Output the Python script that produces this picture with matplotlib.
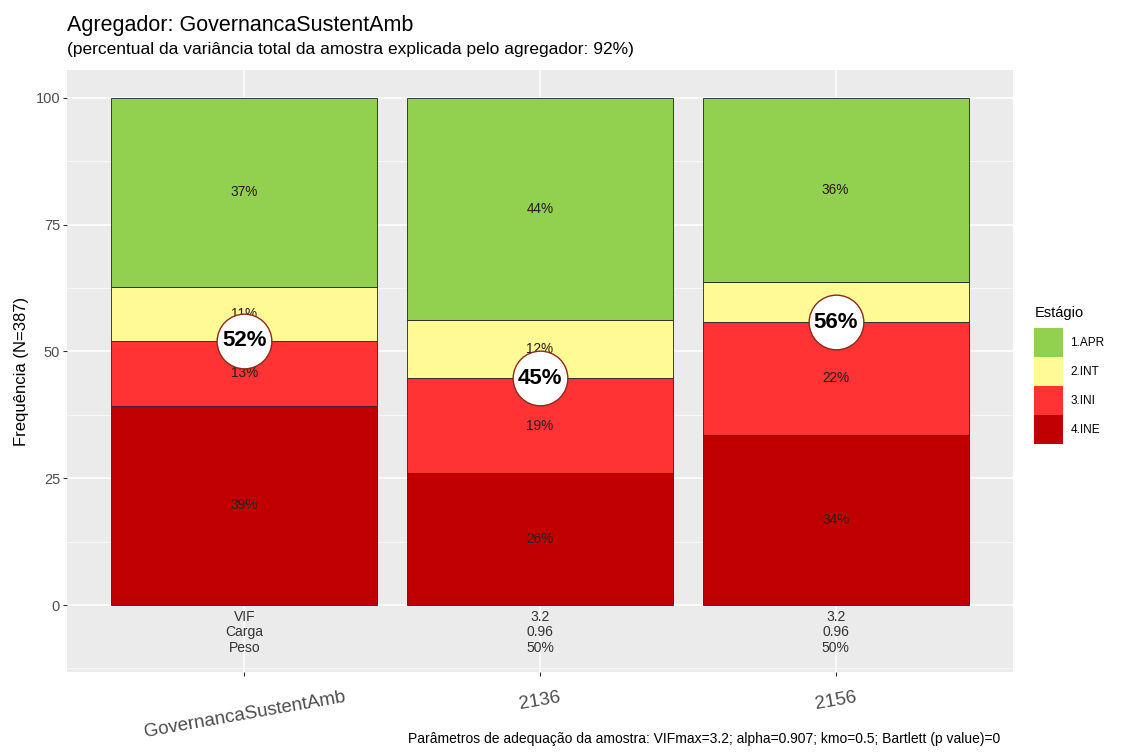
import numpy as np
import matplotlib
matplotlib.use('Agg')
import matplotlib.pyplot as plt
from matplotlib.patches import Patch

plt.rcParams['font.family'] = ['Liberation Sans', 'DejaVu Sans']

categorias = ['GovernancaSustentAmb', '2136', '2156']
estagios = ['1.APR', '2.INT', '3.INI', '4.INE']
cores = ['#92D050', '#FFFA96', '#FF3333', '#C00000']

# percentuais por estagio (de baixo para cima: INE, INI, INT, APR)
ine = [39.3, 26.1, 33.6]
ini = [12.8, 18.6, 22.2]
int_ = [10.6, 11.6, 7.9]
apr = [37.3, 43.7, 36.3]

vif = ['VIF', '3.2', '3.2']
carga = ['Carga', '0.96', '0.96']
peso = ['Peso', '50%', '50%']

titulo = 'Agregador: GovernancaSustentAmb'
subtitulo = '(percentual da variância total da amostra explicada pelo agregador: 92%)'
rodape = 'Parâmetros de adequação da amostra: VIFmax=3.2; alpha=0.907; kmo=0.5; Bartlett (p value)=0'

fig = plt.figure(figsize=(11.23, 7.53), dpi=100)
ax = fig.add_axes([0.0597, 0.1076, 0.8424, 0.7994])
ax.set_facecolor('#EBEBEB')

x = np.arange(1, len(categorias) + 1)
camadas = [ine, ini, int_, apr]
cores_camadas = [cores[3], cores[2], cores[1], cores[0]]
base = np.zeros(len(categorias))
for vals, cor in zip(camadas, cores_camadas):
    vals = np.array(vals)
    ax.bar(x, vals, bottom=base, width=0.9, color=cor, edgecolor='#222222',
           linewidth=0.6, zorder=2)
    for xi, b, v in zip(x, base, vals):
        ax.text(xi, b + v / 2, '%d%%' % round(v), ha='center', va='center',
                fontsize=9.8, color='#2a1a1a', zorder=3)
    base = base + vals

# circulo com INE + INI
soma = np.array(ine) + np.array(ini)
ax.scatter(x, soma, s=1550, color='white', edgecolor='#8B2A1A', linewidth=1.0, zorder=4)
for xi, s in zip(x, soma):
    ax.text(xi, s, '%d%%' % round(s), ha='center', va='center', fontsize=16,
            fontweight='bold', color='black', zorder=5)

# linhas abaixo das barras
for xi, a, b, c in zip(x, vif, carga, peso):
    ax.text(xi, -2.4, a, ha='center', va='center', fontsize=10, color='#333333')
    ax.text(xi, -5.4, b, ha='center', va='center', fontsize=10, color='#333333')
    ax.text(xi, -8.4, c, ha='center', va='center', fontsize=10, color='#333333')

ax.set_xlim(0.4, 3.6)
ax.set_ylim(-13.2, 105.5)
ax.set_yticks([0, 25, 50, 75, 100])
ax.set_yticks([-12.5, 12.5, 37.5, 62.5, 87.5], minor=True)
ax.set_xticks(x)
ax.set_xticklabels(categorias, rotation=10, fontsize=13.5, color='#4D4D4D')
ax.tick_params(axis='x', length=3, color='#333333', pad=9)
ax.tick_params(axis='y', which='major', length=3, color='#333333', labelsize=10.5,
               labelcolor='#4D4D4D', pad=2)
ax.tick_params(axis='y', which='minor', length=0)
ax.grid(which='major', color='white', linewidth=1.1, zorder=0)
ax.grid(which='minor', axis='y', color='white', linewidth=0.5, zorder=0)
ax.set_axisbelow(True)
for s in ax.spines.values():
    s.set_visible(False)
ax.set_ylabel('Frequência (N=387)', fontsize=12, color='black', labelpad=5)

fig.text(0.0597, 0.966, titulo, fontsize=15.5, ha='left', va='center')
fig.text(0.0597, 0.934, subtitulo, fontsize=12.5, ha='left', va='center')
fig.text(0.891, 0.018, rodape, fontsize=10, ha='right', va='center')

# legenda
fig.text(0.921, 0.584, 'Estágio', fontsize=10.5, ha='left', va='center')
handles = [Patch(facecolor=c, edgecolor='none') for c in cores]
leg = fig.legend(handles, estagios, loc='upper left',
                 bbox_to_anchor=(0.921, 0.5644), frameon=False, fontsize=8.5,
                 handlelength=2.45, handleheight=3.4,
                 labelspacing=0.0, handletextpad=0.6, borderpad=0,
                 borderaxespad=0)

fig.savefig('out.png', dpi=100)
